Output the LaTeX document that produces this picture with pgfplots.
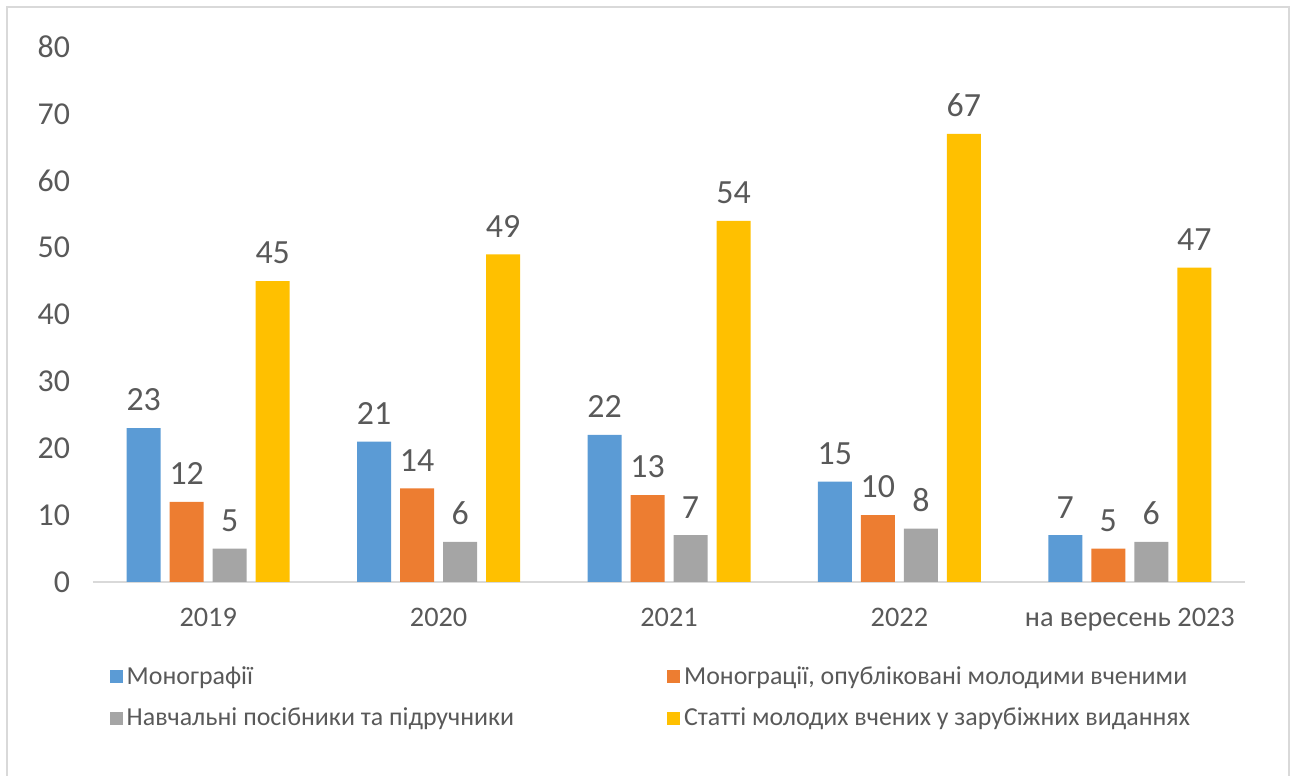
\documentclass[border=0pt]{standalone}
\usepackage{pgfplots}
\pgfplotsset{compat=1.18}
\usepackage{fontspec}
\setmainfont{Carlito}
\definecolor{sBlue}{HTML}{5B9BD5}
\definecolor{sOrange}{HTML}{ED7D31}
\definecolor{sGray}{HTML}{A5A5A5}
\definecolor{sGold}{HTML}{FFC000}
\definecolor{txt}{HTML}{595959}
\definecolor{frm}{HTML}{D9D9D9}
\begin{document}
\begin{tikzpicture}
\useasboundingbox (0,0) rectangle (648bp,388bp);
\draw[frm, line width=1.2bp] (3.5bp,-5bp) -- (3.5bp,384.5bp) -- (644.5bp,384.5bp) -- (644.5bp,-5bp);
\begin{axis}[
    at={(46.5bp,97bp)}, anchor=south west,
    scale only axis, width=576bp, height=267.5bp,
    ybar=4.5bp, bar width=17bp,
    xmin=-0.5, xmax=4.5, ymin=0, ymax=80,
    xtick=data,
    xticklabels={2019,2020,2021,2022,на вересень 2023},
    ytick={0,10,...,80},
    axis x line*=bottom, axis y line*=left,
    x axis line style={frm, line width=1bp, -},
    y axis line style={draw=none},
    major tick length=0pt,
    tick style={draw=none},
    /pgf/number format/assume math mode=true,
    yticklabel style={font=\fontsize{16}{16}\selectfont, text=txt, xshift=-8bp},
    xticklabel style={font=\fontsize{14.2}{14.2}\selectfont, text=txt, yshift=-9.5bp},
    nodes near coords,
    every node near coord/.append style={font=\fontsize{17}{17}\selectfont, text=txt, yshift=5bp},
    legend columns=2,
    legend cell align=left,
    legend image code/.code={\fill[#1] (0bp,-3.25bp) rectangle (6.5bp,3.25bp);},
    legend style={at={(0.009,-0.142)}, anchor=north west, draw=none, fill=none,
        font=\fontsize{13}{13}\selectfont, text=txt, row sep=6.5bp,
        /tikz/every even column/.append style={column sep=74.5bp}},
]
\addplot[fill=sBlue, draw=none] coordinates {(0,23) (1,21) (2,22) (3,15) (4,7)};
\addplot[fill=sOrange, draw=none] coordinates {(0,12) (1,14) (2,13) (3,10) (4,5)};
\addplot[fill=sGray, draw=none] coordinates {(0,5) (1,6) (2,7) (3,8) (4,6)};
\addplot[fill=sGold, draw=none] coordinates {(0,45) (1,49) (2,54) (3,67) (4,47)};
\legend{Монографії, {Монограції, опубліковані молодими вченими}, Навчальні посібники та підручники, Статті молодих вчених у зарубіжних виданнях}
\end{axis}
\end{tikzpicture}
\end{document}
